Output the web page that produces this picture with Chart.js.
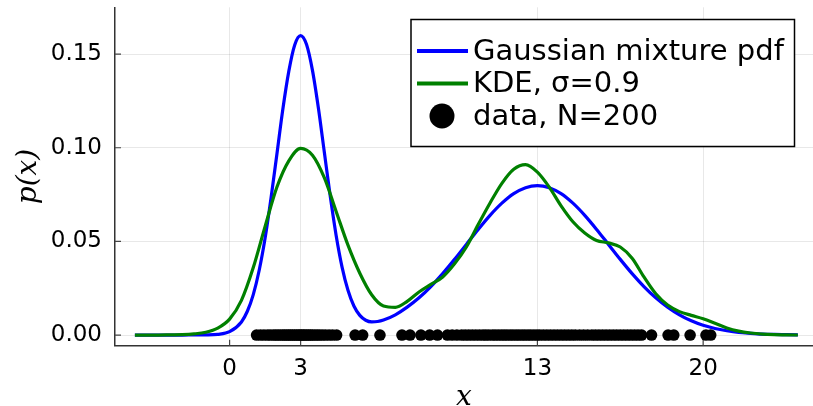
<!DOCTYPE html>
<html>
<head>
<meta charset="utf-8">
<script src="https://cdn.jsdelivr.net/npm/chart.js@4.4.1/dist/chart.umd.min.js"></script>
<style>
  html, body { margin: 0; padding: 0; background: #fff; overflow: hidden; }
  canvas { display: block; }
</style>
</head>
<body>
<canvas id="myChart" width="813" height="406"></canvas>
<script>
// blue curve: x positions (denser round the sharp peak) and values
const mixtureX = [
  -4, -3.5, -3, -2.5, -2, -1.5, -1, -0.5, 0,
  0.5, 0.75, 1, 1.25, 1.5, 1.75, 2, 2.25, 2.5, 2.75,
  3, 3.25, 3.5, 3.75, 4, 4.25, 4.5, 4.75, 5, 5.25,
  5.5, 5.75, 6, 6.25, 6.5,
  7, 7.5, 8, 8.5, 9, 9.5, 10, 10.5, 11, 11.5,
  12, 12.5, 13, 13.5, 14, 14.5, 15, 15.5, 16, 16.5,
  17, 17.5, 18, 18.5, 19, 19.5, 20, 20.5, 21, 21.5,
  22, 22.5, 23, 23.5, 24
];
const mixturePdf = [
  0, 0, 0, 0, 0, 0.00001, 0.00005, 0.00035, 0.0018,
  0.0070, 0.0127, 0.0216, 0.0346, 0.0518, 0.0732, 0.0968, 0.1207, 0.1408, 0.1549,
  0.1599, 0.1551, 0.1413, 0.1212, 0.0977, 0.0742, 0.0532, 0.0363, 0.0239, 0.0155,
  0.0105, 0.0079, 0.0070, 0.0072, 0.0080,
  0.0108, 0.0149, 0.0199, 0.0259, 0.0328, 0.0404, 0.0484, 0.0564, 0.0639, 0.0704,
  0.0755, 0.0787, 0.0798, 0.0787, 0.0755, 0.0704, 0.0639, 0.0564, 0.0484, 0.0404,
  0.0328, 0.0259, 0.0199, 0.0149, 0.0108, 0.0076, 0.0052, 0.0035, 0.0023, 0.0014,
  0.0009, 0.0005, 0.0003, 0.0002, 0.0001
];

// green curve
const kdeX = [
  -4, -3.5, -3, -2.5, -2, -1.5, -1, -0.5, 0, 0.5,
  1, 1.5, 2, 2.5, 3, 3.5, 4, 4.5, 5, 5.5,
  6, 6.5, 7, 7.5, 8, 8.5, 9, 9.5, 10, 10.5,
  11, 11.5, 12, 12.5, 13, 13.5, 14, 14.5, 15, 15.5,
  16, 16.5, 17, 17.5, 18, 18.5, 19, 19.5, 20, 20.5,
  21, 21.5, 22, 22.5, 23, 23.5, 24
];
const kdeValues = [
  0, 0, 0, 0.0001, 0.0002, 0.0006, 0.0015, 0.0037, 0.0085, 0.0185,
  0.036, 0.058, 0.079, 0.093, 0.0997, 0.096, 0.084, 0.066, 0.048, 0.033,
  0.0215, 0.0155, 0.0148, 0.018, 0.023, 0.027, 0.031, 0.038, 0.047, 0.059,
  0.0705, 0.081, 0.0885, 0.091, 0.087, 0.079, 0.069, 0.0605, 0.0545, 0.0505,
  0.0492, 0.047, 0.041, 0.031, 0.022, 0.016, 0.0125, 0.0105, 0.0087, 0.0063,
  0.0038, 0.0021, 0.0011, 0.0005, 0.0002, 0.0001, 0
];

// black dots along p=0
const samples = [
  1.14, 1.3, 1.45, 1.6, 1.72, 1.85, 1.95, 2.05, 2.15, 2.25,
  2.33, 2.42, 2.5, 2.58, 2.66, 2.74, 2.82, 2.9, 2.97, 3.04,
  3.11, 3.18, 3.26, 3.34, 3.42, 3.5, 3.6, 3.7, 3.8, 3.92,
  4.05, 4.2, 4.35, 4.52,
  5.3, 5.62, 6.35, 7.28, 7.62, 8.08, 8.45, 8.78,
  9.2, 9.4, 9.6, 9.8, 9.95, 10.1, 10.25, 10.4, 10.55, 10.7,
  10.82, 10.95, 11.1, 11.22, 11.35, 11.48, 11.6, 11.72, 11.85, 11.97,
  12.1, 12.22, 12.35, 12.47, 12.6, 12.72, 12.85, 12.98, 13.1, 13.25,
  13.4, 13.55, 13.7, 13.85, 14.0, 14.15, 14.3, 14.45, 14.6, 14.78,
  14.95, 15.12, 15.3, 15.45, 15.6, 15.75, 15.9, 16.05, 16.2, 16.35,
  16.5, 16.65, 16.8, 16.95, 17.1, 17.25, 17.4,
  17.82, 18.52, 18.76, 19.45, 20.12, 20.32
];

const xTicks = [0, 3, 13, 20];
const yTicks = [0, 0.05, 0.10, 0.15];
const seriesNames = ['Gaussian mixture pdf', 'KDE, σ=0.9', 'data, N=200'];

const tickFont = { family: 'DejaVu Sans', size: 23 };
const titleFont = { family: 'DejaVu Serif', style: 'italic', size: 28, lineHeight: 0.8 };

// Plots-style ticks that point into the plot
const innerTicks = {
  id: 'innerTicks',
  beforeDatasetsDraw(chart) {
    const { ctx, chartArea, scales } = chart;
    ctx.save();
    ctx.strokeStyle = '#444';
    ctx.lineWidth = 1.2;
    ctx.beginPath();
    xTicks.forEach(v => {
      const px = scales.x.getPixelForValue(v);
      ctx.moveTo(px, chartArea.bottom);
      ctx.lineTo(px, chartArea.bottom - 6);
    });
    yTicks.forEach(v => {
      const py = scales.y.getPixelForValue(v);
      ctx.moveTo(chartArea.left, py);
      ctx.lineTo(chartArea.left + 6, py);
    });
    ctx.stroke();
    ctx.restore();
  }
};

// legend box in the top right corner
const boxLegend = {
  id: 'boxLegend',
  afterDraw(chart) {
    const ctx = chart.ctx;
    const ds = chart.data.datasets;
    const left = 411, top = 19.5, w = 383.5, h = 127;
    const rows = [51, 83.5, 116];
    ctx.save();
    ctx.fillStyle = '#fff';
    ctx.fillRect(left, top, w, h);
    ctx.strokeStyle = '#000';
    ctx.lineWidth = 1.5;
    ctx.strokeRect(left, top, w, h);

    for (let i = 0; i < 2; i++) {
      ctx.strokeStyle = ds[i].borderColor;
      ctx.lineWidth = 4;
      ctx.beginPath();
      ctx.moveTo(417, rows[i]);
      ctx.lineTo(468, rows[i]);
      ctx.stroke();
    }
    ctx.fillStyle = ds[2].backgroundColor;
    ctx.beginPath();
    ctx.arc(442, rows[2], 12.5, 0, Math.PI * 2);
    ctx.fill();

    ctx.fillStyle = '#000';
    ctx.font = '29px "DejaVu Sans"';
    ctx.textBaseline = 'middle';
    ctx.textAlign = 'left';
    seriesNames.forEach((name, i) => ctx.fillText(name, 473, rows[i] + 1));
    ctx.restore();
  }
};

// no extra room round the axes: the plot box is set by the layout padding
function noScalePadding(s) {
  s.paddingTop = 0;
  s.paddingBottom = 0;
  s.paddingLeft = 0;
  s.paddingRight = 0;
}

const ctx = document.getElementById('myChart').getContext('2d');

const chart = new Chart(ctx, {
  type: 'scatter',
  data: {
    datasets: [
      {
        label: seriesNames[0],
        data: mixtureX.map((x, i) => ({ x: x, y: mixturePdf[i] })),
        showLine: true,
        borderColor: '#0000ff',
        borderWidth: 3.2,
        pointRadius: 0,
        cubicInterpolationMode: 'monotone',
        order: 3
      },
      {
        label: seriesNames[1],
        data: kdeX.map((x, i) => ({ x: x, y: kdeValues[i] })),
        showLine: true,
        borderColor: '#008000',
        borderWidth: 3.2,
        pointRadius: 0,
        cubicInterpolationMode: 'monotone',
        order: 2
      },
      {
        label: seriesNames[2],
        data: samples.map(x => ({ x: x, y: 0 })),
        backgroundColor: '#000',
        borderWidth: 0,
        pointRadius: 5.8,
        order: 1
      }
    ]
  },
  options: {
    responsive: false,
    animation: false,
    layout: { autoPadding: false, padding: { top: 7.3, right: 0, bottom: 0, left: 0 } },
    plugins: {
      legend: { display: false },
      tooltip: { enabled: false }
    },
    scales: {
      x: {
        type: 'linear',
        min: -4.84,
        max: 24.64,
        afterBuildTicks: s => { s.ticks = xTicks.map(v => ({ value: v })); },
        afterFit: s => { s.height = 60.3; noScalePadding(s); },
        grid: { color: 'rgba(0,0,0,0.09)', lineWidth: 1, drawTicks: false },
        border: { color: '#333', width: 1.5 },
        ticks: {
          color: '#000',
          font: tickFont,
          padding: 10,
          maxRotation: 0,
          autoSkip: false,
          callback: v => String(v)
        },
        title: { display: true, text: 'x', color: '#000', font: titleFont, padding: { top: 0, bottom: -3 } }
      },
      y: {
        min: -0.0057,
        max: 0.175,
        afterBuildTicks: s => { s.ticks = yTicks.map(v => ({ value: v })); },
        afterFit: s => { s.width = 115; noScalePadding(s); },
        grid: { color: 'rgba(0,0,0,0.09)', lineWidth: 1, drawTicks: false },
        border: { color: '#333', width: 1.5 },
        ticks: {
          color: '#000',
          font: tickFont,
          padding: 13,
          callback: v => v.toFixed(2)
        },
        title: { display: true, text: 'p(x)', color: '#000', font: titleFont, padding: { top: 18, bottom: 0 } }
      }
    }
  },
  plugins: [innerTicks, boxLegend]
});
</script>
</body>
</html>
